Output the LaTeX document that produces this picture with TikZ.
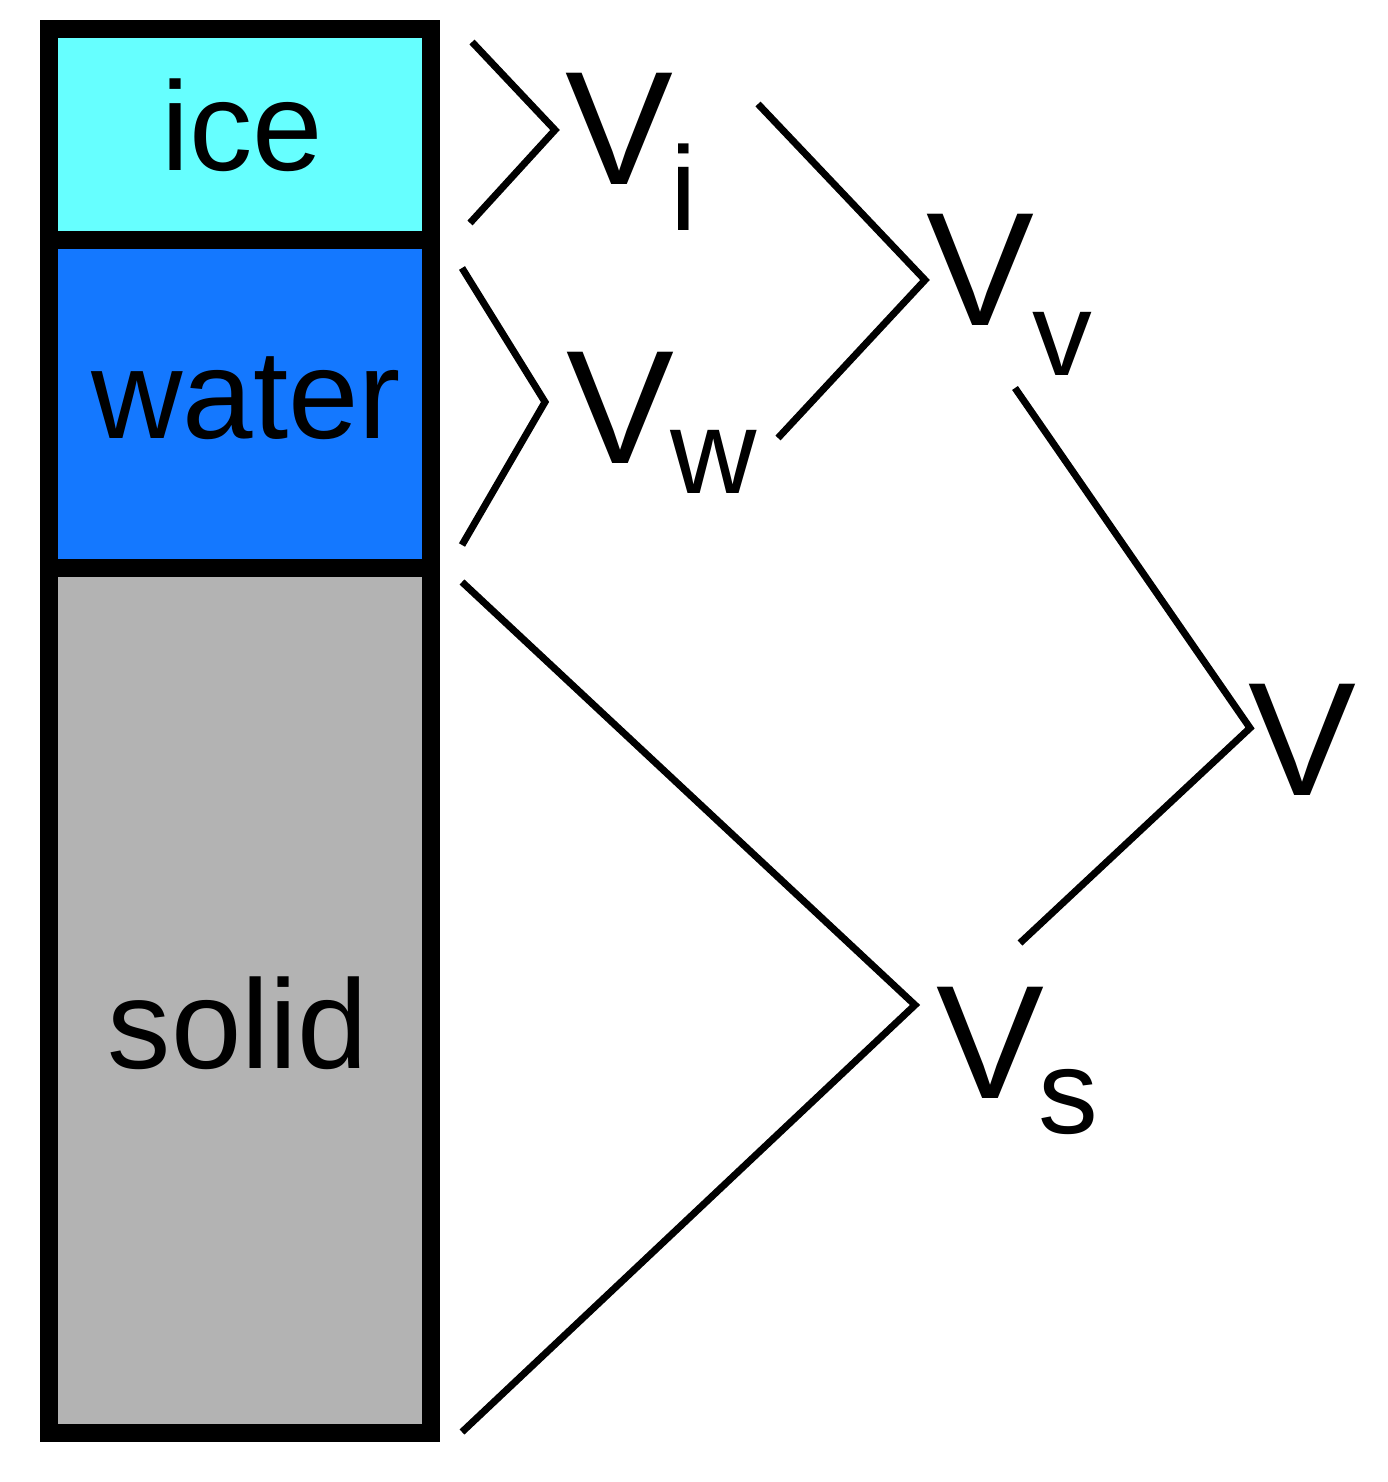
\documentclass[tikz,border=0pt]{standalone}
\usepackage{fontspec}
\setmainfont{Liberation Sans}
\begin{document}
\begin{tikzpicture}[x=0.01cm,y=-0.01cm,
  lbl/.style={font=\fontsize{36pt}{40pt}\selectfont, anchor=base, inner sep=0pt},
  bigV/.style={font=\fontsize{46pt}{50pt}\selectfont, anchor=base west, inner sep=0pt},
  sub/.style={font=\fontsize{34pt}{38pt}\selectfont, anchor=base west, inner sep=0pt},
  brk/.style={line width=0.07cm, line join=miter}]
\useasboundingbox (0,0) rectangle (1387,1482);
\definecolor{icec}{HTML}{66FFFF}
\definecolor{waterc}{HTML}{1478FF}
\definecolor{solidc}{HTML}{B3B3B3}
\fill[icec] (49,29) rectangle (431,240);
\fill[waterc] (49,240) rectangle (431,568);
\fill[solidc] (49,568) rectangle (431,1433);
\draw[line width=0.18cm] (49,29) rectangle (431,1433);
\draw[line width=0.18cm] (49,240) -- (431,240);
\draw[line width=0.18cm] (49,568) -- (431,568);
\node[lbl] (ice) at (242,170) {ice};
\node[lbl] (water) at (246,438) {water};
\node[lbl] (solid) at (238,1068) {solid};
\node[bigV] (Vi) at (565,185) {V};
\node[sub] (si) at (670,230) {i};
\node[bigV] (Vv) at (926,325) {V};
\node[sub] (sv) at (1032,375) {v};
\node[bigV] (Vw) at (566,463) {V};
\node[sub] (sw) at (670,493) {w};
\node[bigV] (V) at (1248,795) {V};
\node[bigV] (Vs) at (936,1098) {V};
\node[sub] (ss) at (1038,1133) {s};
\draw[brk] (472,42) -- (555,130) -- (470,223);
\draw[brk] (462,268) -- (545,402) -- (462,545);
\draw[brk] (758,104) -- (925,280) -- (778,438);
\draw[brk] (462,582) -- (915,1005) -- (462,1432);
\draw[brk] (1015,388) -- (1250,728) -- (1020,943);
\end{tikzpicture}
\end{document}
